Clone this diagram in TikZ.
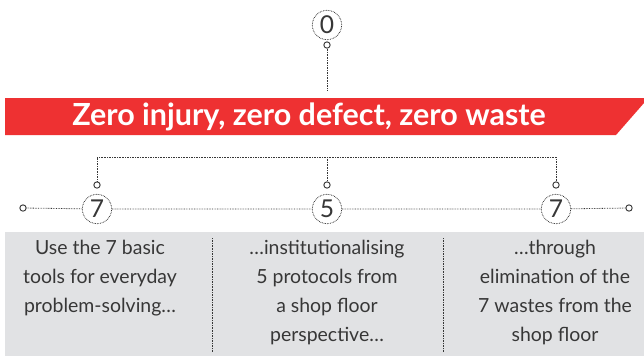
\documentclass[tikz,border=0pt]{standalone}
\usepackage{fontspec}
\setmainfont{Lato}
\usetikzlibrary{positioning, calc}
\definecolor{bannerred}{RGB}{238,49,50}
\definecolor{panelgray}{RGB}{225,226,228}
\definecolor{inkgray}{RGB}{55,55,55}

\begin{document}
\begin{tikzpicture}[
    x=0.03cm, y=-0.03cm,
    dotline/.style={draw=inkgray, line width=0.7pt, dash pattern=on 0.6pt off 0.8pt},
    numring/.style={dotline, circle, minimum size=0.88cm, inner sep=0pt, fill=white, font=\fontsize{21}{21}\selectfont, text=inkgray},
    knob/.style={draw=inkgray, line width=0.8pt, circle, fill=white, minimum size=0.19cm, inner sep=0pt},
    coltext/.style={align=center, anchor=north, inner sep=0pt, text=inkgray, font=\fontsize{16.6}{24.8}\selectfont}
]
    \useasboundingbox (0,0) rectangle (644,356);

    % Red banner and grey panel
    \fill[bannerred] (5,98) -- (644,98) -- (644,103) -- (616,135) -- (5,135) -- cycle;
    \node[text=white, font=\fontsize{26}{26}\selectfont\bfseries] (motto) at (309,117) {Zero injury, zero defect, zero waste};
    \fill[panelgray] (5,232) rectangle (644,356);
    \draw[dotline] (212,238) -- (212,352);
    \draw[dotline] (443,238) -- (443,352);

    % Top goal
    \node[numring] (goal) at (327,25) {0};
    \node[knob] (goalknob) at (327,45) {};
    \coordinate (bannertop) at (327,90);
    \draw[dotline] (goalknob) -- (bannertop);

    % Three pillars
    \node[numring] (tools) at (97,209) {7};
    \node[numring] (protocols) at (327,209) {5};
    \node[numring] (wastes) at (556,209) {7};
    \node[knob] (toolsknob) at (97,185) {};
    \node[knob] (protocolsknob) at (327,185) {};
    \node[knob] (wastesknob) at (556,185) {};
    \coordinate (bracket) at (327,157);
    \draw[dotline] (toolsknob) |- (bracket) -| (wastesknob);
    \draw[dotline] (bracket) -- (protocolsknob);

    \node[knob] (leftend) at (23,208) {};
    \node[knob] (rightend) at (629,208) {};
    \draw[dotline] (leftend) -- (tools) -- (protocols) -- (wastes) -- (rightend);

    % Column texts
    \node[coltext] (toolstext) at (100,240) {Use the 7 basic\\tools for everyday\\problem-solving…};
    \node[coltext] (protocolstext) at (327,240) {…institutionalising\\5 protocols from\\a shop floor\\perspective…};
    \node[coltext] (wastestext) at (555,240) {…through\\elimination of the\\7 wastes from the\\shop floor};
\end{tikzpicture}
\end{document}
